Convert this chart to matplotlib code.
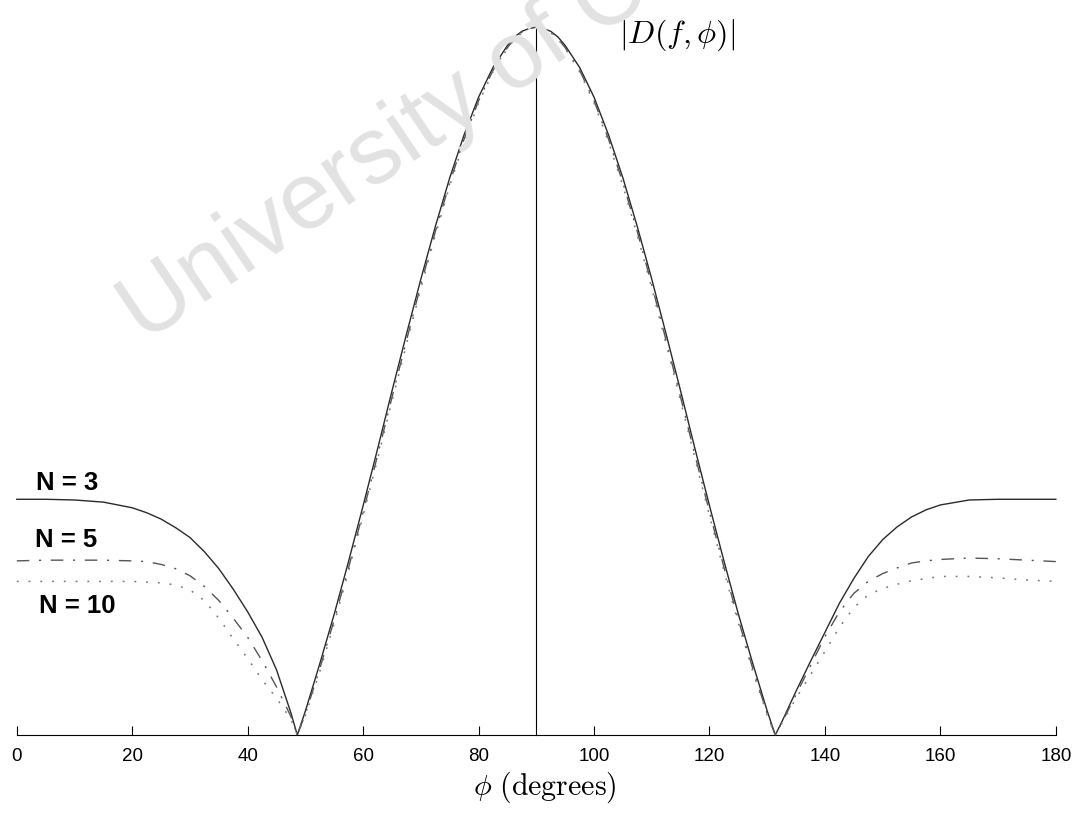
import matplotlib
matplotlib.use('Agg')
import matplotlib.pyplot as plt

'''
Directivity |D(f, phi)| versus phi for N = 3, 5, 10
(values read off the scanned figure, normalised so the main-lobe peak is 1)
'''

phi = [0, 5, 10, 15, 20, 22.5, 25, 27.5, 30, 32.5, 35, 37.5, 40, 42.5, 45, 47.5, 48.6,
       50, 52.5, 55, 57.5, 60, 62.5, 65, 67.5, 70, 72.5, 75, 77.5, 80, 82.5, 85, 86.25, 87.5, 88.75,
       90, 91.25, 92.5, 93.75, 95, 97.5, 100, 102.5, 105, 107.5, 110, 112.5, 115, 117.5, 120, 122.5,
       125, 127.5, 130, 131.4,
       132.5, 135, 137.5, 140, 142.5, 145, 147.5, 150, 152.5, 155, 157.5, 160, 165, 170, 175, 180]

d_n3 = [0.333, 0.333, 0.332, 0.329, 0.321, 0.314, 0.305, 0.293, 0.279, 0.259, 0.235, 0.206, 0.174, 0.138, 0.092, 0.031, 0.0,
        0.034, 0.101, 0.171, 0.246, 0.324, 0.404, 0.486, 0.566, 0.644, 0.718, 0.787, 0.848, 0.901, 0.943, 0.974, 0.986, 0.994, 0.998,
        1.0, 0.998, 0.994, 0.986, 0.974, 0.943, 0.901, 0.848, 0.787, 0.718, 0.644, 0.566, 0.486, 0.404, 0.324, 0.246,
        0.171, 0.101, 0.034, 0.0,
        0.018, 0.062, 0.104, 0.145, 0.186, 0.221, 0.252, 0.276, 0.294, 0.308, 0.318, 0.325, 0.332, 0.333, 0.333, 0.333]

d_n5 = [0.246, 0.247, 0.247, 0.247, 0.246, 0.245, 0.241, 0.235, 0.225, 0.210, 0.190, 0.165, 0.138, 0.105, 0.068, 0.026, 0.0,
        0.030, 0.094, 0.163, 0.237, 0.315, 0.395, 0.477, 0.557, 0.636, 0.711, 0.780, 0.842, 0.896, 0.939, 0.971, 0.984, 0.993, 0.998,
        1.0, 0.998, 0.993, 0.984, 0.971, 0.939, 0.896, 0.842, 0.780, 0.711, 0.636, 0.557, 0.477, 0.395, 0.315, 0.237,
        0.163, 0.094, 0.030, 0.0,
        0.017, 0.057, 0.098, 0.139, 0.174, 0.200, 0.217, 0.228, 0.236, 0.243, 0.246, 0.248, 0.250, 0.249, 0.247, 0.245]

d_n10 = [0.217, 0.217, 0.217, 0.217, 0.217, 0.216, 0.215, 0.212, 0.205, 0.190, 0.165, 0.136, 0.108, 0.078, 0.052, 0.022, 0.0,
         0.028, 0.090, 0.158, 0.232, 0.310, 0.390, 0.472, 0.552, 0.631, 0.706, 0.776, 0.838, 0.893, 0.937, 0.970, 0.983, 0.992, 0.998,
         1.0, 0.998, 0.992, 0.983, 0.970, 0.937, 0.893, 0.838, 0.776, 0.706, 0.631, 0.552, 0.472, 0.390, 0.310, 0.232,
         0.158, 0.090, 0.028, 0.0,
         0.016, 0.052, 0.085, 0.118, 0.152, 0.180, 0.198, 0.207, 0.213, 0.218, 0.221, 0.224, 0.224, 0.222, 0.219, 0.217]

xticks = [0, 20, 40, 60, 80, 100, 120, 140, 160, 180]
curve_labels = ['N = 3', 'N = 5', 'N = 10']

plt.rcParams['mathtext.fontset'] = 'cm'

fig = plt.figure(figsize=(10.83, 8.13), dpi=100)
ax = fig.add_axes([0.0155, 0.0959, 0.9594, 0.8708])

# watermark of the scanned thesis page
fig.text(0.133, 0.577, 'University of Cape Town', fontsize=68, color='#e2e2e2',
         family='Liberation Sans', rotation=34, rotation_mode='anchor',
         ha='left', va='baseline', zorder=0)

ax.plot(phi, d_n3, color='#2a2a2a', lw=1.0, clip_on=False, zorder=3)
ax.plot(phi, d_n5, color='#555555', lw=1.0, dashes=(9, 7, 1.5, 7), clip_on=False, zorder=3)
ax.plot(phi, d_n10, color='#777777', lw=1.1, dashes=(1.2, 6.5), clip_on=False, zorder=3)
ax.plot([90, 90], [0, 1], color='black', lw=0.8, clip_on=False, zorder=2)

ax.set_xlim(0, 180)
ax.set_ylim(0, 1)
ax.patch.set_alpha(0)
for s in ['left', 'right', 'top']:
    ax.spines[s].set_visible(False)
ax.spines['bottom'].set_linewidth(0.8)
ax.set_yticks([])
ax.set_xticks(xticks)
ax.tick_params(axis='x', direction='in', length=6.5, width=0.8, pad=9)
for lab in ax.get_xticklabels():
    lab.set_family('Liberation Sans')
    lab.set_fontsize(13.5)

ax.text(3.4, 0.346, curve_labels[0], fontsize=18.5, fontweight='bold', family='Liberation Sans', va='baseline')
ax.text(3.1, 0.266, curve_labels[1], fontsize=18.5, fontweight='bold', family='Liberation Sans', va='baseline')
ax.text(3.9, 0.172, curve_labels[2], fontsize=18.5, fontweight='bold', family='Liberation Sans', va='baseline')
ax.text(104.3, 0.978, r'$|D(f,\phi)|$', fontsize=23, ha='left', va='baseline')

fig.text(545 / 1083, 1 - 795 / 813, r'$\phi\ \mathrm{(degrees)}$', fontsize=21.5, ha='center', va='baseline')

fig.savefig('out.png', dpi=100, facecolor='white')
